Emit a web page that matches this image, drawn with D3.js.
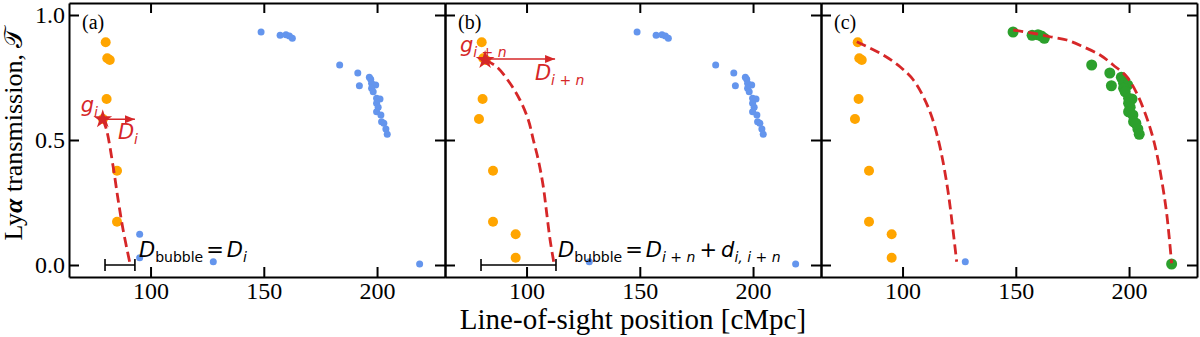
<!DOCTYPE html>
<html lang="en">
<head>
<meta charset="UTF-8">
<title>Lya transmission panels</title>
<script src="https://cdnjs.cloudflare.com/ajax/libs/d3/7.8.5/d3.min.js"></script>
<style>
  body { margin: 0; background: #fff; }
  svg { display: block; }
  .tick text { font-family: "Liberation Serif", serif; font-size: 24px; fill: #000; }
  .tick line, .domain { stroke: #000; stroke-width: 2px; }
</style>
</head>
<body>
<div id="chart"></div>
<script>
// ---- data ----
var xDomain = [64, 230],
    yDomain = [-0.048, 1.048],
    xTicks = [100, 150, 200],
    yTicks = [0.0, 0.5, 1.0],
    panelTags = ['(a)', '(b)', '(c)'];

// galaxies: line-of-sight position [cMpc] and Lya transmission
var galaxyPos   = [80.2, 80.9, 82.0, 80.6, 79.0, 85.2, 85.2, 95.2, 95.2, 127.7,
                   148.8, 157.2, 159.8, 161.3, 162.6, 183.5, 191.5, 192.2, 196.6, 197.2,
                   197.6, 199.4, 197.6, 198.3, 199.8, 201.3, 199.8, 200.5, 199.8, 201.7,
                   202.0, 203.0, 203.9, 204.5, 218.8];
var galaxyTrans = [0.891, 0.827, 0.820, 0.664, 0.584, 0.377, 0.173, 0.123, 0.029, 0.013,
                   0.932, 0.919, 0.921, 0.916, 0.907, 0.800, 0.768, 0.717, 0.751, 0.743,
                   0.727, 0.720, 0.707, 0.693, 0.667, 0.664, 0.647, 0.631, 0.613, 0.600,
                   0.573, 0.567, 0.544, 0.523, 0.004];

// how many leading galaxies are in the first bubble (orange), per panel
var orangeCount = [7, 9, 9];
// index range of galaxies in the second bubble (green), per panel
var greenRange = [null, null, [10, 34]];

// dashed model curves [position, transmission]
var curveA  = [[78.9, 0.583], [80.6, 0.54], [83.5, 0.393], [85.7, 0.26], [87.9, 0.14], [90.9, 0.007]];
var curveB  = [[81.7, 0.82], [86.8, 0.793], [92.7, 0.727], [97.1, 0.66], [100.8, 0.58], [103.0, 0.50],
               [105.2, 0.42], [107.4, 0.313], [108.9, 0.207], [110.4, 0.10], [112.1, 0.007]];
var curveC1 = [[79.8, 0.893], [91.5, 0.84], [98.9, 0.793], [104.8, 0.74], [109.2, 0.673], [112.9, 0.593],
               [115.8, 0.50], [118.0, 0.407], [120.2, 0.287], [122.1, 0.153], [123.9, 0.013]];
var curveC2 = [[148.9, 0.94], [157.7, 0.927], [165.1, 0.913], [172.5, 0.90], [179.8, 0.873], [187.2, 0.84],
               [193.0, 0.80], [199.0, 0.753], [203.4, 0.687], [207.1, 0.607], [210.0, 0.527], [212.2, 0.447],
               [214.4, 0.34], [216.6, 0.207], [218.8, 0.007]];
var panelCurves = [[curveA], [curveB], [curveC1, curveC2]];

// starting galaxy (star), arrow [from, to, transmission], bubble bar [from, to]
var stars  = [[78.9, 0.583], [81.7, 0.82], null];
var arrows = [[78.9, 93.1, 0.583], [81.7, 112.6, 0.824], null];
var bars   = [[79.9, 93.1], [79.9, 113.0], null];

// annotations: [position, transmission, colour, parts]; parts: [text, kind, gap before]
// kind: 'i' italic, 'r' roman, 'si' italic subscript, 'sr' roman subscript
var notes = [
  [[69.2, 0.614, '#d62728', [['g', 'i'], ['i', 'si']]],
   [85.6, 0.504, '#d62728', [['D', 'i'], ['i', 'si']]],
   [94.9, 0.032, '#000', [['D', 'i'], ['bubble', 'sr'], ['=', 'r', 3], ['D', 'i', 3], ['i', 'si']]]],
  [[70.6, 0.854, '#d62728', [['g', 'i'], ['i + n', 'si']]],
   [103.7, 0.740, '#d62728', [['D', 'i'], ['i + n', 'si']]],
   [113.9, 0.032, '#000', [['D', 'i'], ['bubble', 'sr'], ['=', 'r', 3], ['D', 'i', 3], ['i + n', 'si'],
                           ['+', 'r', 4], ['d', 'i', 4], ['i, i + n', 'si']]]],
  []
];

// ---- layout ----
var w = 1200, h = 337,
    panelLeft = [69, 445, 821],
    panelW = 376,
    plotTop = 3, plotBottom = 277;

var svg = d3.select('#chart').append('svg').attr('width', w).attr('height', h);

var yScale = d3.scaleLinear().domain(yDomain).range([plotBottom, plotTop]);

svg.append('defs').append('marker')
    .attr('id', 'arrowhead')
    .attr('viewBox', '0 0 10 10')
    .attr('refX', 10).attr('refY', 5)
    .attr('markerWidth', 10).attr('markerHeight', 10)
    .attr('markerUnits', 'userSpaceOnUse')
    .attr('orient', 'auto')
    .append('path').attr('d', 'M0,1 L10,5 L0,9 Z').attr('fill', '#d62728');

function mathText(g, x, y, color, parts) {
    var t = g.append('text').attr('x', x).attr('y', y)
        .attr('fill', color)
        .style('font-family', '"DejaVu Sans", sans-serif')
        .style('font-size', '21px');
    var shifted = false;
    parts.forEach(function (p) {
        var sub = p[1].charAt(0) === 's';
        var span = t.append('tspan').text(p[0])
            .style('white-space', 'pre')
            .style('font-style', p[1].slice(-1) === 'i' ? 'italic' : 'normal')
            .style('font-size', sub ? '14px' : '21px');
        if (p[2]) span.attr('dx', p[2]);
        if (sub && !shifted) { span.attr('dy', 5); shifted = true; }
        if (!sub && shifted) { span.attr('dy', -5); shifted = false; }
    });
}

panelLeft.forEach(function (x0, k) {
    var xScale = d3.scaleLinear().domain(xDomain).range([x0, x0 + panelW]);
    var g = svg.append('g');

    // axes, ticks pointing inwards on all four sides
    g.append('g').attr('transform', 'translate(0,' + plotBottom + ')')
        .call(d3.axisBottom(xScale).tickValues(xTicks).tickFormat(d3.format('d'))
              .tickSize(-10).tickSizeOuter(0).tickPadding(5));
    g.append('g').attr('transform', 'translate(0,' + plotTop + ')')
        .call(d3.axisTop(xScale).tickValues(xTicks).tickFormat('')
              .tickSize(-10).tickSizeOuter(0));
    g.append('g').attr('transform', 'translate(' + x0 + ',0)')
        .call(d3.axisLeft(yScale).tickValues(yTicks)
              .tickFormat(k === 0 ? d3.format('.1f') : '')
              .tickSize(-10).tickSizeOuter(0).tickPadding(4));
    g.append('g').attr('transform', 'translate(' + (x0 + panelW) + ',0)')
        .call(d3.axisRight(yScale).tickValues(yTicks).tickFormat('')
              .tickSize(-10).tickSizeOuter(0));

    g.append('text').attr('x', x0 + 13).attr('y', 29)
        .style('font-family', '"Liberation Serif", serif').style('font-size', '20px')
        .text(panelTags[k]);

    // galaxies
    var gr = greenRange[k];
    var pts = galaxyPos.map(function (p, i) {
        var kind = 'blue';
        if (i < orangeCount[k]) kind = 'orange';
        if (gr && i >= gr[0] && i <= gr[1]) kind = 'green';
        return { x: p, t: galaxyTrans[i], kind: kind };
    });
    var colors = { blue: '#6495ed', orange: '#ffa500', green: '#2ca02c' };
    var radius = { blue: 3.5, orange: 5, green: 5.5 };
    g.selectAll('circle.gal').data(pts).enter().append('circle')
        .attr('class', 'gal')
        .attr('cx', function (d) { return xScale(d.x); })
        .attr('cy', function (d) { return yScale(d.t); })
        .attr('r', function (d) { return radius[d.kind]; })
        .attr('fill', function (d) { return colors[d.kind]; });

    // dashed model curves
    var line = d3.line()
        .x(function (d) { return xScale(d[0]); })
        .y(function (d) { return yScale(d[1]); })
        .curve(d3.curveCatmullRom);
    panelCurves[k].forEach(function (c) {
        g.append('path').attr('d', line(c))
            .attr('fill', 'none').attr('stroke', '#d62728')
            .attr('stroke-width', 2.8).attr('stroke-dasharray', '10,5');
    });

    // bubble size bar
    if (bars[k]) {
        var bx0 = xScale(bars[k][0]), bx1 = xScale(bars[k][1]), by = yScale(0);
        g.append('path')
            .attr('d', 'M' + bx0 + ',' + by + 'H' + bx1 +
                       'M' + bx0 + ',' + (by - 6) + 'V' + (by + 6) +
                       'M' + bx1 + ',' + (by - 6) + 'V' + (by + 6))
            .attr('stroke', '#000').attr('stroke-width', 1.6).attr('fill', 'none');
    }

    // arrow and star
    if (arrows[k]) {
        g.append('line')
            .attr('x1', xScale(arrows[k][0])).attr('x2', xScale(arrows[k][1]))
            .attr('y1', yScale(arrows[k][2])).attr('y2', yScale(arrows[k][2]))
            .attr('stroke', '#d62728').attr('stroke-width', 1.5)
            .attr('marker-end', 'url(#arrowhead)');
    }
    if (stars[k]) {
        g.append('path')
            .attr('d', d3.symbol().type(d3.symbolStar).size(110)())
            .attr('transform', 'translate(' + xScale(stars[k][0]) + ',' + yScale(stars[k][1]) + ')')
            .attr('fill', '#d62728');
    }

    notes[k].forEach(function (n) {
        mathText(g, xScale(n[0]), yScale(n[1]), n[2], n[3]);
    });
});

// axis titles
svg.append('text')
    .attr('x', panelLeft[1] + panelW / 2).attr('y', 329)
    .attr('text-anchor', 'middle')
    .style('font-family', '"Liberation Serif", serif').style('font-size', '29px')
    .text('Line-of-sight position [cMpc]');

var yl = svg.append('text')
    .attr('transform', 'translate(22,' + ((plotTop + plotBottom) / 2 - 6) + ') rotate(-90)')
    .attr('text-anchor', 'middle')
    .style('font-family', '"Liberation Serif", serif').style('font-size', '26px');
yl.append('tspan').text('Ly');
yl.append('tspan').text('\u03b1').style('font-style', 'italic').style('font-weight', 'bold');
yl.append('tspan').text(' transmission, ');
yl.append('tspan').text('\ud835\udcaf');
</script>
</body>
</html>
